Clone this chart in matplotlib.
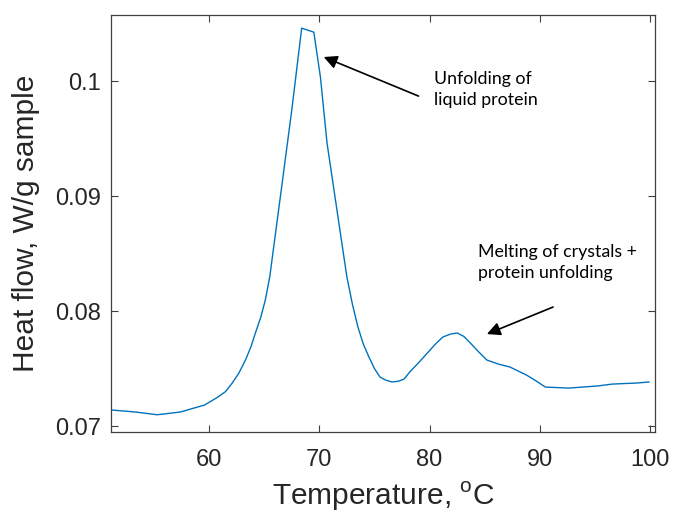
import matplotlib
matplotlib.use("Agg")
import matplotlib.pyplot as plt

temperature = [51.2, 53.3, 55.3, 57.4, 59.6, 60.8, 61.5, 62.1, 62.7, 63.3, 63.8, 64.2,
               64.7, 65.1, 65.5, 66.7, 67.5, 68.4, 69.5, 70.1, 70.7, 71.6, 72.5, 73.0,
               73.5, 74.0, 74.5, 75.0, 75.5, 76.0, 76.6, 77.2, 77.7, 78.2, 79.0, 79.8,
               80.5, 81.2, 81.9, 82.5, 83.1, 83.7, 84.4, 85.2, 86.2, 87.3, 88.0, 88.8,
               89.7, 90.5, 92.6, 95.2, 96.6, 98.8, 99.9]
heat_flow = [0.07139, 0.07122, 0.07098, 0.07122, 0.07183, 0.07252, 0.07300, 0.07374,
             0.07460, 0.07574, 0.07690, 0.07809, 0.07950, 0.08096, 0.08296, 0.09165,
             0.09748, 0.10461, 0.10426, 0.10035, 0.09461, 0.08878, 0.08296, 0.08060,
             0.07861, 0.07710, 0.07600, 0.07500, 0.07426, 0.07400, 0.07383, 0.07390,
             0.07410, 0.07470, 0.07550, 0.07635, 0.07710, 0.07774, 0.07800, 0.07809,
             0.07780, 0.07722, 0.07650, 0.07574, 0.07540, 0.07513, 0.07480, 0.07443,
             0.07390, 0.07339, 0.07330, 0.07348, 0.07365, 0.07374, 0.07383]

x_ticks = [60, 70, 80, 90, 100]
y_ticks = [0.07, 0.08, 0.09, 0.1]
y_tick_labels = ["0.07", "0.08", "0.09", "0.1"]

fig = plt.figure(figsize=(6.75, 5.23), dpi=100)
ax = fig.add_axes([0.1644, 0.174, 0.806, 0.797])
ax.plot(temperature, heat_flow, color="#0072BD", lw=1.0)

ax.set_xlim(51.1, 100.45)
ax.set_ylim(0.06948, 0.10574)
ax.set_xticks(x_ticks)
ax.set_xticklabels([str(t) for t in x_ticks])
ax.set_yticks(y_ticks)
ax.set_yticklabels(y_tick_labels)

dark = "#262626"
for s in ax.spines.values():
    s.set_color("#404040")
    s.set_linewidth(0.9)
ax.tick_params(direction="in", top=True, right=True, length=5, width=0.8,
               colors="#404040", labelcolor=dark, labelsize=17)
ax.tick_params(axis="x", pad=12)
ax.tick_params(axis="y", pad=7)
for lab in ax.get_xticklabels() + ax.get_yticklabels():
    lab.set_fontfamily("Liberation Sans")

ax.set_xlabel("Temperature, $^{\\mathregular{o}}$C", fontsize=21.5, family="Liberation Sans",
              color=dark, labelpad=7)
ax.set_ylabel("Heat flow, W/g sample", fontsize=21.5, family="Liberation Sans",
              color=dark, labelpad=11)

ax.annotate("", xy=(70.4, 0.1021), xytext=(79.0, 0.0987),
            arrowprops=dict(arrowstyle="-|>", color="black", lw=1.2,
                            mutation_scale=20, shrinkA=0, shrinkB=0))
ax.text(80.4, 0.0993, "Unfolding of\nliquid protein", fontsize=12.8, family="Lato",
        ha="left", va="center", linespacing=1.4)

ax.annotate("", xy=(85.2, 0.07800), xytext=(91.2, 0.08035),
            arrowprops=dict(arrowstyle="-|>", color="black", lw=1.2,
                            mutation_scale=20, shrinkA=0, shrinkB=0))
ax.text(84.4, 0.0842, "Melting of crystals +\nprotein unfolding", fontsize=12.8, family="Lato",
        ha="left", va="center", linespacing=1.4)

fig.savefig("out.png", dpi=100)
